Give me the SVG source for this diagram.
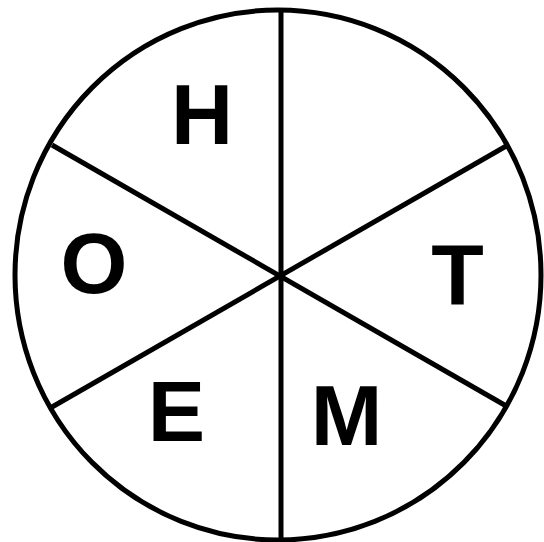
<svg xmlns="http://www.w3.org/2000/svg" width="544" height="542" viewBox="0 0 544 542">
<style>
.ln{stroke:#000;stroke-width:5;fill:none}
.lt{font-family:"Liberation Sans",Arial,sans-serif;font-weight:bold;font-size:86px;fill:#000;text-anchor:middle}
</style>
<rect width="544" height="542" fill="#fff"/>
<g id="connectors">
<ellipse class="ln" cx="278" cy="275" rx="263" ry="265"/>
<line class="ln" x1="281" y1="10" x2="281" y2="540"/>
<line class="ln" x1="52" y1="145" x2="508" y2="407"/>
<line class="ln" x1="52" y1="407" x2="508" y2="145"/>
</g>
<g id="H"><text class="lt" x="202" y="144">H</text></g>
<g id="O"><text class="lt" x="94" y="293">O</text></g>
<g id="T"><text class="lt" x="457.5" y="304">T</text></g>
<g id="E"><text class="lt" x="176.5" y="441">E</text></g>
<g id="M"><text class="lt" x="346.5" y="445">M</text></g>
</svg>
